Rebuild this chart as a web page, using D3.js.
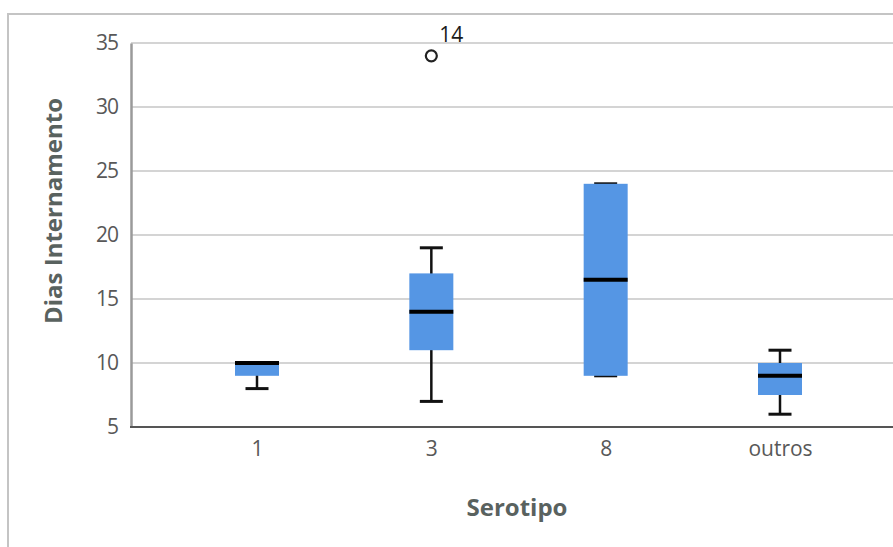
<!DOCTYPE html>
<html lang="pt">
<head>
<meta charset="utf-8">
<title>Dias Internamento por Serotipo</title>
<script src="https://cdn.jsdelivr.net/npm/d3@7"></script>
<style>
  body { margin: 0; background: #fff; }
  svg text { font-family: "Open Sans", "DejaVu Sans", sans-serif; }
</style>
</head>
<body>
<script>
// categories and box statistics
var categories = ["1", "3", "8", "outros"];
var whiskerLow = [8, 7, 9, 6];
var q1 = [9, 11, 9, 7.5];
var median = [10, 14, 16.5, 9];
var q3 = [10, 17, 24, 10];
var whiskerHigh = [10, 19, 24, 11];
var outlierCat = ["3"];
var outlierVal = [34];
var outlierLabel = ["14"];
var yTicks = [5, 10, 15, 20, 25, 30, 35];

var w = 893, h = 547;
var plotLeft = 131, plotBottom = 427, plotTop = 43;

var svg = d3.select("body").append("svg")
  .attr("width", w).attr("height", h);

// outer frame
svg.append("rect")
  .attr("x", 8).attr("y", 14)
  .attr("width", w + 20).attr("height", h + 20)
  .attr("fill", "none").attr("stroke", "#c4c4c4").attr("stroke-width", 2);

var y = d3.scaleLinear().domain([5, 35]).range([plotBottom, plotTop]);
var x = d3.scalePoint().domain(categories).range([257, 780]);

// gridlines
svg.append("g").selectAll("line")
  .data(yTicks.filter(function (d) { return d > 5; }))
  .enter().append("line")
  .attr("x1", plotLeft).attr("x2", w)
  .attr("y1", function (d) { return y(d); })
  .attr("y2", function (d) { return y(d); })
  .attr("stroke", "#d4d4d4").attr("stroke-width", 2);

// y axis
var yAxis = svg.append("g")
  .attr("transform", "translate(" + plotLeft + ",0)")
  .call(d3.axisLeft(y).tickValues(yTicks).tickSize(0).tickPadding(13));
yAxis.select(".domain").attr("stroke", "#9a9a9a").attr("stroke-width", 2.5);
yAxis.selectAll("text").attr("font-size", "21px").attr("fill", "#585858")
  .attr("letter-spacing", "-1px");

// x axis
var xAxis = svg.append("g")
  .attr("transform", "translate(0," + plotBottom + ")")
  .call(d3.axisBottom(x).tickSize(0).tickPadding(14));
xAxis.select(".domain").remove();
xAxis.selectAll("text").attr("font-size", "21px").attr("fill", "#585858");
svg.append("line")
  .attr("x1", plotLeft - 1).attr("x2", w)
  .attr("y1", plotBottom).attr("y2", plotBottom)
  .attr("stroke", "#555").attr("stroke-width", 2);

// boxes
var boxW = 44, capW = 23;
var idx = d3.range(categories.length);
var g = svg.append("g");

// whiskers
g.selectAll("line.whisk")
  .data(idx).enter().append("line")
  .attr("class", "whisk")
  .attr("x1", function (i) { return x(categories[i]); })
  .attr("x2", function (i) { return x(categories[i]); })
  .attr("y1", function (i) { return y(whiskerLow[i]); })
  .attr("y2", function (i) { return y(whiskerHigh[i]); })
  .attr("stroke", "#111").attr("stroke-width", 2.5);

g.selectAll("line.capLo")
  .data(idx).enter().append("line")
  .attr("class", "capLo")
  .attr("x1", function (i) { return x(categories[i]) - capW / 2; })
  .attr("x2", function (i) { return x(categories[i]) + capW / 2; })
  .attr("y1", function (i) { return y(whiskerLow[i]); })
  .attr("y2", function (i) { return y(whiskerLow[i]); })
  .attr("stroke", "#111").attr("stroke-width", 3);

g.selectAll("line.capHi")
  .data(idx).enter().append("line")
  .attr("class", "capHi")
  .attr("x1", function (i) { return x(categories[i]) - capW / 2; })
  .attr("x2", function (i) { return x(categories[i]) + capW / 2; })
  .attr("y1", function (i) { return y(whiskerHigh[i]); })
  .attr("y2", function (i) { return y(whiskerHigh[i]); })
  .attr("stroke", "#111").attr("stroke-width", 3);

g.selectAll("rect")
  .data(idx).enter().append("rect")
  .attr("x", function (i) { return x(categories[i]) - boxW / 2; })
  .attr("y", function (i) { return y(q3[i]); })
  .attr("width", boxW)
  .attr("height", function (i) { return y(q1[i]) - y(q3[i]); })
  .attr("fill", "#5596e4");

g.selectAll("line.med")
  .data(idx).enter().append("line")
  .attr("class", "med")
  .attr("x1", function (i) { return x(categories[i]) - boxW / 2; })
  .attr("x2", function (i) { return x(categories[i]) + boxW / 2; })
  .attr("y1", function (i) { return y(median[i]); })
  .attr("y2", function (i) { return y(median[i]); })
  .attr("stroke", "#000").attr("stroke-width", 4);

// outliers
g.selectAll("circle")
  .data(outlierVal).enter().append("circle")
  .attr("cx", function (d, i) { return x(outlierCat[i]); })
  .attr("cy", function (d) { return y(d); })
  .attr("r", 5.5)
  .attr("fill", "none").attr("stroke", "#222").attr("stroke-width", 2.2);

g.selectAll("text.out")
  .data(outlierVal).enter().append("text")
  .attr("class", "out")
  .attr("x", function (d, i) { return x(outlierCat[i]) + 8; })
  .attr("y", function (d) { return y(d) - 14; })
  .attr("font-size", "21px").attr("fill", "#1a1a1a")
  .attr("font-family", "Liberation Sans, Arial, sans-serif")
  .text(function (d, i) { return outlierLabel[i]; });

// axis titles
svg.append("text")
  .attr("transform", "translate(62,211) rotate(-90)")
  .attr("text-anchor", "middle")
  .attr("font-size", "24px").attr("font-weight", "bold").attr("fill", "#59625f")
  .text("Dias Internamento");

svg.append("text")
  .attr("x", 517).attr("y", 516)
  .attr("text-anchor", "middle")
  .attr("font-size", "24px").attr("font-weight", "bold").attr("fill", "#59625f")
  .text("Serotipo");
</script>
</body>
</html>
